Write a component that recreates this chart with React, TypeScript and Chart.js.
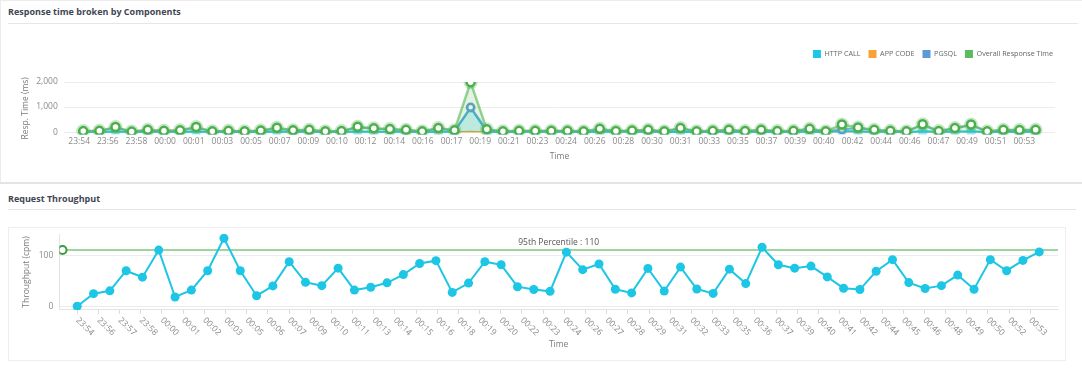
import React, { useEffect, useRef } from 'react';
import { Chart, registerables } from 'chart.js';

Chart.register(...registerables);

const FONT = '"Open Sans", "Noto Sans", sans-serif';

// Minute categories (one point per minute)
const minutes = [
  '23:54', '23:55', '23:56', '23:57', '23:58', '23:59',
  '00:00', '00:01', '00:02', '00:03', '00:04', '00:05', '00:06', '00:07', '00:08', '00:09',
  '00:10', '00:11', '00:12', '00:13', '00:14', '00:15', '00:16', '00:17', '00:18', '00:19',
  '00:20', '00:21', '00:22', '00:23', '00:24', '00:25', '00:26', '00:27', '00:28', '00:29',
  '00:30', '00:31', '00:32', '00:33', '00:34', '00:35', '00:36', '00:37', '00:38', '00:39',
  '00:40', '00:41', '00:42', '00:43', '00:44', '00:45', '00:46', '00:47', '00:48', '00:49',
  '00:50', '00:51', '00:52', '00:53',
];

// ---- Response time broken by Components (ms) ----
const httpCall = [
  10, 10, 20, 5, 10, 10, 10, 20, 5, 10,
  5, 10, 20, 10, 10, 5, 10, 20, 15, 10,
  10, 5, 15, 10, 960, 10, 5, 10, 10, 10,
  10, 5, 15, 10, 10, 10, 5, 15, 5, 10,
  10, 5, 10, 5, 10, 15, 5, 40, 20, 10,
  10, 5, 30, 10, 15, 30, 5, 10, 10, 10,
];
const appCode = [
  5, 5, 10, 5, 5, 5, 5, 10, 5, 5,
  5, 5, 10, 5, 5, 5, 5, 10, 10, 5,
  5, 5, 10, 5, 20, 5, 5, 5, 5, 5,
  5, 5, 10, 5, 5, 5, 5, 10, 5, 5,
  5, 5, 5, 5, 5, 10, 5, 20, 10, 5,
  5, 5, 10, 5, 10, 10, 5, 5, 5, 5,
];
const pgsql = [
  30, 40, 180, 10, 75, 40, 60, 185, 20, 40,
  20, 50, 155, 60, 75, 20, 30, 195, 135, 105,
  75, 20, 145, 60, 990, 95, 20, 40, 40, 40,
  40, 20, 115, 30, 50, 75, 20, 145, 20, 40,
  75, 30, 75, 30, 40, 115, 20, 100, 165, 75,
  40, 20, 290, 30, 145, 280, 20, 75, 70, 75,
];
const overallResponse = [
  40, 50, 200, 20, 90, 50, 70, 200, 30, 50,
  30, 60, 170, 70, 90, 30, 40, 210, 150, 120,
  90, 30, 160, 70, 1990, 110, 30, 50, 50, 50,
  50, 30, 130, 40, 60, 90, 30, 160, 30, 50,
  90, 40, 90, 40, 50, 130, 30, 300, 180, 90,
  50, 30, 310, 40, 160, 300, 30, 90, 80, 90,
];
const topTickLabels = [
  '23:54', '23:56', '23:58', '00:00', '00:01', '00:03', '00:05', '00:07', '00:09', '00:10',
  '00:12', '00:14', '00:16', '00:17', '00:19', '00:21', '00:23', '00:24', '00:26', '00:28',
  '00:30', '00:31', '00:33', '00:35', '00:37', '00:39', '00:40', '00:42', '00:44', '00:46',
  '00:47', '00:49', '00:51', '00:53',
];
const topYTicks = [0, 1000, 2000];

// ---- Request Throughput (cpm) ----
const throughput = [
  1, 25.5, 31, 70, 57.5, 110, 19, 32.5, 70, 133,
  70, 21.5, 40.5, 87.5, 47.5, 41, 75, 32.5, 38, 46.5,
  62.5, 84, 89.5, 28, 46, 87.5, 81.5, 39, 33.5, 30,
  106, 72, 83, 34, 27, 74.5, 30.5, 77, 34.5, 26,
  73, 45, 115.5, 81.5, 75, 79, 58, 36, 33.5, 69,
  91.5, 47, 35.5, 41, 61.5, 34, 91.5, 70, 90, 106.5,
];
const percentile95 = 110;
const bottomTickLabels = [
  '23:54', '23:56', '23:57', '23:58', '00:00', '00:01', '00:02', '00:03', '00:05', '00:06',
  '00:07', '00:09', '00:10', '00:11', '00:13', '00:14', '00:15', '00:16', '00:18', '00:19',
  '00:20', '00:22', '00:23', '00:24', '00:26', '00:27', '00:28', '00:29', '00:31', '00:32',
  '00:33', '00:35', '00:36', '00:37', '00:39', '00:40', '00:41', '00:42', '00:44', '00:45',
  '00:46', '00:48', '00:49', '00:50', '00:52', '00:53',
];
const bottomYTicks = [0, 100];

const toXY = (vals: number[]) => vals.map((v, i) => ({ x: i, y: v }));

const tickFont = { family: FONT, size: 8.5 };
const TICK_COLOR = '#8a8a8a';
const TITLE_COLOR = '#7a7a7a';

const spread = (labels: string[], start: number, end: number) =>
  labels.map((_, i) => ({ value: start + (i * (end - start)) / (labels.length - 1) }));

const legendGap = {
  id: 'legendGap',
  beforeLayout(chart: any) {
    const legend = chart.legend;
    if (legend && !legend.__gapPatched) {
      const origFit = legend.fit;
      legend.fit = function () {
        origFit.call(this);
        this.height += 14;
      };
      const origDraw = legend.draw;
      legend.draw = function () {
        const ctx = this.ctx;
        ctx.save();
        ctx.translate(3, 0);
        origDraw.call(this);
        ctx.restore();
      };
      legend.__gapPatched = true;
    }
  },
};

const rotatedLabels = {
  id: 'rotatedLabels',
  afterDraw(chart: any) {
    const s = chart.scales.x;
    const ctx = chart.ctx;
    ctx.save();
    ctx.font = `8.5px ${FONT}`;
    ctx.fillStyle = TICK_COLOR;
    ctx.textAlign = 'left';
    ctx.textBaseline = 'middle';
    s.ticks.forEach((_t: any, i: number) => {
      const x = s.getPixelForTick(i);
      ctx.save();
      ctx.translate(x, s.top + 9);
      ctx.rotate(Math.PI / 4);
      ctx.fillText(bottomTickLabels[i], 0, 0);
      ctx.restore();
    });
    ctx.restore();
  },
};

const percentileLabel = {
  id: 'percentileLabel',
  afterDatasetsDraw(chart: any) {
    const { ctx, chartArea, scales } = chart;
    const y = scales.y.getPixelForValue(percentile95);
    ctx.save();
    ctx.font = `8.5px ${FONT}`;
    ctx.fillStyle = '#555';
    ctx.textAlign = 'center';
    ctx.textBaseline = 'middle';
    ctx.fillText(`95th Percentile : ${percentile95}`, (chartArea.left + chartArea.right) / 2, y - 7.5);
    ctx.restore();
  },
};

function topConfig(): any {
  const cyan = '#1cc6e8';
  const orange = '#f8a237';
  const blue = '#5b9bd5';
  const green = '#5cbb5c';
  return {
    type: 'line',
    data: {
      datasets: [
        {
          label: 'HTTP CALL', data: toXY(httpCall), borderColor: cyan, backgroundColor: 'rgba(28,198,232,0.2)',
          fill: 'origin', borderWidth: 2, pointRadius: 5, pointBorderWidth: 0,
          pointBackgroundColor: 'rgba(28,198,232,0.45)', order: 3,
        },
        {
          label: 'APP CODE', data: toXY(appCode), borderColor: orange, backgroundColor: orange,
          fill: false, borderWidth: 1.5, pointRadius: 0, order: 4,
        },
        {
          label: 'PGSQL', data: toXY(pgsql), borderColor: 'rgba(91,155,213,0.8)', backgroundColor: blue,
          fill: false, borderWidth: 2, pointRadius: 3.5, pointBorderWidth: 2.5, pointBorderColor: blue,
          pointBackgroundColor: '#fff', order: 2,
        },
        {
          label: 'Overall Response Time', data: toXY(overallResponse), borderColor: 'rgba(92,187,92,0.65)',
          backgroundColor: 'rgba(92,187,92,0.18)', fill: 'origin', borderWidth: 2.5, pointRadius: 4,
          pointBorderWidth: 2.5, pointBorderColor: '#4cae4c', pointBackgroundColor: '#fff', order: 0,
        },
        {
          label: '', data: toXY(overallResponse), showLine: false, fill: false, pointRadius: 7,
          pointBorderWidth: 0, pointBackgroundColor: 'rgba(92,187,92,0.35)', order: 1,
        },
      ],
    },
    options: {
      responsive: true,
      maintainAspectRatio: false,
      animation: false,
      layout: { padding: { left: 8, right: 4, top: 0, bottom: 5 } },
      plugins: {
        tooltip: { enabled: false },
        legend: {
          position: 'top',
          align: 'end',
          labels: {
            boxWidth: 8,
            boxHeight: 8,
            padding: 8,
            color: '#666',
            font: { family: FONT, size: 7.2 },
            sort: (a: any, b: any) => a.datasetIndex - b.datasetIndex,
            filter: (item: any) => item.text !== '',
            generateLabels: (chart: any) =>
              Chart.defaults.plugins.legend.labels.generateLabels(chart).map((l: any) => {
                const col = [cyan, orange, blue, green][l.datasetIndex] || l.fillStyle;
                return { ...l, fillStyle: col, strokeStyle: col, lineWidth: 0 };
              }),
          },
        },
      },
      scales: {
        x: {
          type: 'linear',
          min: -1.2,
          max: 60.2,
          grid: { display: false, drawTicks: false },
          border: { display: false },
          afterBuildTicks: (s: any) => { s.ticks = spread(topTickLabels, -0.25, 58.3); },
          ticks: {
            autoSkip: false, maxRotation: 0, minRotation: 0, padding: 1.5,
            color: TICK_COLOR, font: tickFont,
            callback: (_v: any, i: number) => topTickLabels[i] ?? '',
          },
          title: { display: true, text: 'Time', color: TITLE_COLOR, font: tickFont, padding: { top: 4, bottom: 2 } },
        },
        y: {
          min: -100,
          max: 2000,
          afterBuildTicks: (s: any) => { s.ticks = topYTicks.map((v) => ({ value: v })); },
          grid: { color: '#ececec', drawTicks: false },
          border: { display: false },
          ticks: { padding: 6, color: TICK_COLOR, font: tickFont },
          title: { display: true, text: 'Resp. Time (ms)', color: TITLE_COLOR, font: tickFont, padding: { top: 4, bottom: 0 } },
        },
      },
    },
    plugins: [legendGap],
  };
}

function bottomConfig(): any {
  const cyan = '#1cc6e4';
  return {
    type: 'line',
    data: {
      datasets: [
        {
          label: 'Throughput', data: toXY(throughput), borderColor: cyan, backgroundColor: cyan,
          fill: false, borderWidth: 2, pointRadius: 4.5, pointBorderWidth: 0, pointBackgroundColor: cyan, order: 0,
        },
        {
          label: '95th Percentile', data: [{ x: -0.9, y: percentile95 }, { x: 60.15, y: percentile95 }],
          borderColor: 'rgba(92,187,92,0.6)', backgroundColor: '#fff', fill: false, borderWidth: 2,
          pointRadius: [4, 0], pointBorderWidth: 2, pointBorderColor: '#3d9b3d', pointBackgroundColor: '#fff', order: 1,
        },
      ],
    },
    options: {
      responsive: true,
      maintainAspectRatio: false,
      animation: false,
      layout: { padding: { left: 8, right: 8, top: 0, bottom: 4 } },
      plugins: { legend: { display: false }, tooltip: { enabled: false } },
      scales: {
        x: {
          type: 'linear',
          min: -1.1,
          max: 60.15,
          grid: { drawOnChartArea: false, drawTicks: true, tickLength: 4, color: '#dcdcdc' },
          border: { display: true, color: '#e4e4e4' },
          afterBuildTicks: (s: any) => { s.ticks = spread(bottomTickLabels, 0, 58.45); },
          ticks: {
            autoSkip: false, maxRotation: 45, minRotation: 45, padding: 2,
            color: 'rgba(0,0,0,0)', font: { family: FONT, size: 7.5 },
            callback: (_v: any, i: number) => bottomTickLabels[i] ?? '',
          },
          title: { display: true, text: 'Time', color: TITLE_COLOR, font: tickFont, padding: { top: 2, bottom: 6 } },
        },
        y: {
          min: -6,
          max: 141,
          afterBuildTicks: (s: any) => { s.ticks = bottomYTicks.map((v) => ({ value: v })); },
          grid: { color: '#ececec', drawTicks: false },
          border: { display: true, color: '#e4e4e4' },
          ticks: { padding: 6, color: TICK_COLOR, font: tickFont },
          title: { display: true, text: 'Throughput (cpm)', color: TITLE_COLOR, font: tickFont, padding: { top: 4, bottom: 1.5 } },
        },
      },
    },
    plugins: [rotatedLabels, percentileLabel],
  };
}

const titleStyle: React.CSSProperties = {
  position: 'absolute',
  left: 8,
  fontFamily: FONT,
  fontWeight: 700,
  fontSize: 9,
  lineHeight: '14px',
  color: '#3f4654',
  whiteSpace: 'nowrap',
};

export default function App() {
  const topRef = useRef<HTMLCanvasElement>(null);
  const botRef = useRef<HTMLCanvasElement>(null);

  useEffect(() => {
    const c1 = new Chart(topRef.current as HTMLCanvasElement, topConfig());
    const c2 = new Chart(botRef.current as HTMLCanvasElement, bottomConfig());
    return () => {
      c1.destroy();
      c2.destroy();
    };
  }, []);

  return (
    <div style={{ position: 'absolute', left: 0, top: 0, width: 1082, height: 369, background: '#fff', overflow: 'hidden' }}>
      {/* panel 1 borders */}
      <div style={{ position: 'absolute', left: 0, top: 0, width: 1082, height: 1, background: '#ececec' }} />
      <div style={{ position: 'absolute', left: 0, top: 0, width: 1, height: 182, background: '#ececec' }} />
      <div style={{ ...titleStyle, top: 5 }}>Response time broken by Components</div>
      <div style={{ position: 'absolute', left: 8, top: 23, width: 1070, height: 1, background: '#e6e6e6' }} />
      <div style={{ position: 'absolute', left: 8, top: 42, width: 1054, height: 127 }}>
        <canvas ref={topRef} />
      </div>

      {/* separator */}
      <div style={{ position: 'absolute', left: 0, top: 182, width: 1082, height: 2, background: '#e4e4e4' }} />

      {/* panel 2 */}
      <div style={{ ...titleStyle, top: 192 }}>Request Throughput</div>
      <div style={{ position: 'absolute', left: 8, top: 209, width: 1068, height: 1, background: '#e6e6e6' }} />
      <div style={{ position: 'absolute', left: 8, top: 227, width: 1058, height: 134, border: '1px solid #eeeeee', boxSizing: 'border-box' }} />
      <div style={{ position: 'absolute', left: 9, top: 223, width: 1057, height: 137 }}>
        <canvas ref={botRef} />
      </div>
    </div>
  );
}
